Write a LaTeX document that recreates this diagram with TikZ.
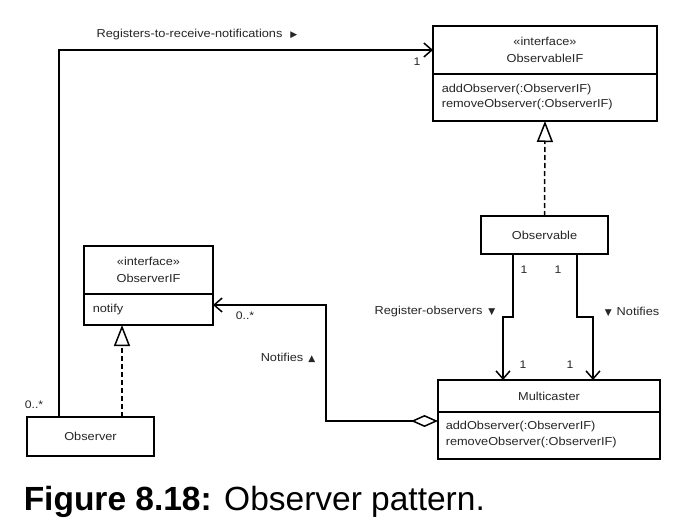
\documentclass[tikz,border=0pt]{standalone}
\usepackage{fontspec}
\setmainfont{Liberation Sans}
\newfontfamily\dfont[FakeStretch=1.11]{Liberation Sans}
\newfontfamily\symfont{DejaVu Sans}
\usetikzlibrary{arrows.meta}
\newcommand{\tri}[1]{{\symfont\fontsize{9}{9}\selectfont #1}}
\begin{document}
\begin{tikzpicture}[x=1pt,y=-1pt,
  line width=1.5pt,
  box/.style={draw=black, line width=1.5pt, inner sep=0pt, outer sep=0pt, anchor=north west},
  txt/.style={inner sep=0pt, font=\dfont\fontsize{11.5}{13}\selectfont, text=black!85},
  lbl/.style={inner sep=0pt, font=\dfont\fontsize{11.5}{12}\selectfont, text=black!85},
  mult/.style={inner sep=0pt, font=\dfont\fontsize{11}{12}\selectfont, text=black!85},
  assoc/.style={draw=black, line width=1.5pt, -{Straight Barb[length=8pt,width=14pt,line width=1.5pt]}},
  realize/.style={draw=black, line width=1.5pt, dash pattern=on 5pt off 3pt, -{Triangle[open,length=21pt,width=16pt,line width=1.5pt]}},
  aggr/.style={draw=black, line width=1.5pt, {Diamond[open,length=27pt,width=12pt,line width=1.5pt]}-{Straight Barb[length=8pt,width=14pt,line width=1.5pt]}}
]
\useasboundingbox (0,0) rectangle (690,532);
\fill[white] (0,0) rectangle (690,532);

% ObservableIF
\node[box, minimum width=224pt, minimum height=48pt] (oifT) at (433,26) {};
\node[box, minimum width=224pt, minimum height=47pt] (oifB) at (433,74) {};
\node[txt] (oifS) at (545,41) {«interface»};
\node[txt] (oifN) at (545,58) {ObservableIF};
\node[txt, anchor=west] (oifM1) at (441,90) {addObserver(:ObserverIF)};
\node[txt, anchor=west] (oifM2) at (441,105) {removeObserver(:ObserverIF)};

% Observable
\node[box, minimum width=127pt, minimum height=38pt] (obl) at (481,216) {};
\node[txt] (oblN) at (544.5,235) {Observable};

% ObserverIF
\node[box, minimum width=129pt, minimum height=48pt] (ifT) at (84,246) {};
\node[box, minimum width=129pt, minimum height=31pt] (ifB) at (84,294) {};
\node[txt] (ifS) at (148.5,261) {«interface»};
\node[txt] (ifN) at (148.5,278) {ObserverIF};
\node[txt, anchor=west] (ifM) at (92,310) {notify};

% Observer
\node[box, minimum width=127pt, minimum height=39pt] (obs) at (27,417) {};
\node[txt] (obsN) at (90.5,436) {Observer};

% Multicaster
\node[box, minimum width=222pt, minimum height=32pt] (mcT) at (438,380) {};
\node[box, minimum width=222pt, minimum height=47pt] (mcB) at (438,412) {};
\node[txt] (mcN) at (549,396) {Multicaster};
\node[txt, anchor=west] (mcM1) at (445,427) {addObserver(:ObserverIF)};
\node[txt, anchor=west] (mcM2) at (445,443) {removeObserver(:ObserverIF)};

% Connectors
\draw[assoc] ([xshift=32pt]obs.north west) |- (oifT.west);
\draw[realize] ([xshift=95pt]obs.north west) -- ([xshift=38pt]ifB.south west);
\draw[realize] (obl.north) -- (oifB.south);
\draw[assoc] ([xshift=32pt]obl.south west) -- ++(0,63) -- ++(-10,0) -- ([xshift=65pt]mcT.north west);
\draw[assoc] ([xshift=96pt]obl.south west) -- ++(0,63) -- ++(16,0) -- ([xshift=155pt]mcT.north west);
\draw[aggr] ([yshift=-9pt]mcB.north west) -- ++(-112,0) |- ([yshift=-11pt]ifB.north east);

% Labels
\node[lbl] (l1) at (197,35) {Registers-to-receive-notifications\hspace{8pt}\tri{▶}};
\node[mult] (m1) at (417,62) {1};
\node[mult] (m2) at (34,405) {0..*};
\node[mult] (m3) at (245,316) {0..*};
\node[lbl] (l2) at (288,358) {Notifies\hspace{5pt}\tri{▲}};
\node[lbl] (l3) at (435,312) {Register-observers\hspace{6pt}\tri{▼}};
\node[lbl] (l4) at (632,312) {\tri{▼}\hspace{5pt}Notifies};
\node[mult] (m4) at (524,270) {1};
\node[mult] (m5) at (558,270) {1};
\node[mult] (m6) at (523,365) {1};
\node[mult] (m7) at (570,365) {1};

% Caption
\node[inner sep=0pt, anchor=base west, font=\fontsize{33.5}{40}\selectfont] (cap) at (23,510) {\textbf{Figure 8.18:} Observer pattern.};
\end{tikzpicture}
\end{document}
